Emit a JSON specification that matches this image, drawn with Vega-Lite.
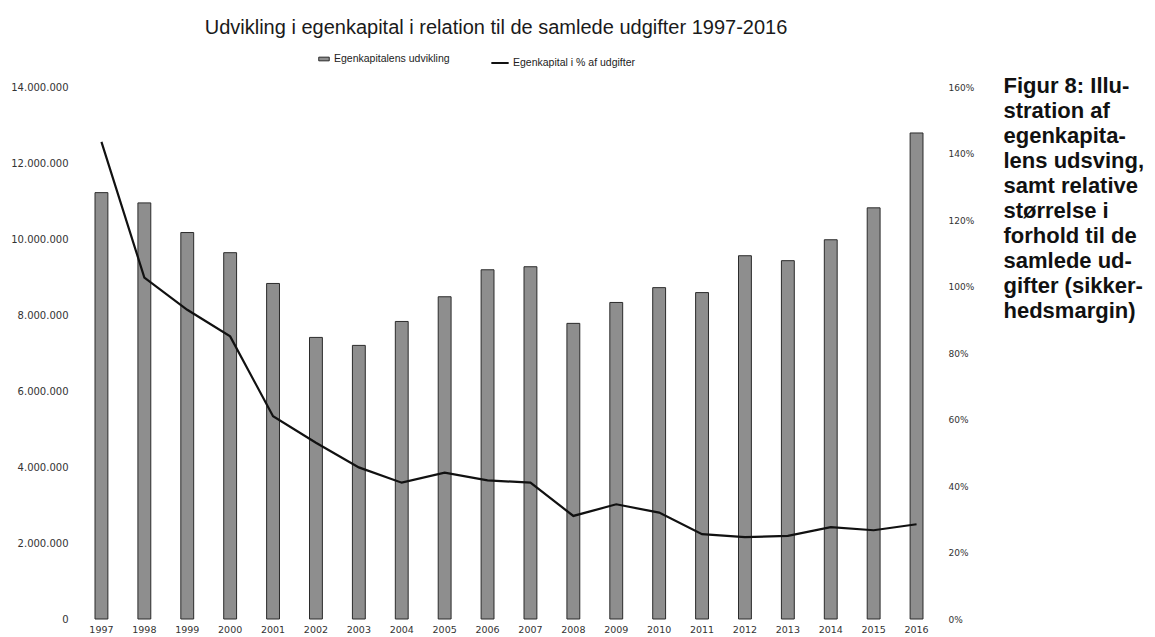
{
  "$schema": "https://vega.github.io/schema/vega-lite/v6.json",
  "width": 858,
  "height": 532,
  "autosize": {"type": "none"},
  "padding": {"left": 80, "top": 87, "right": 217, "bottom": 18},
  "background": "white",
  "title": {
    "text": "Udvikling i egenkapital  i relation til de samlede udgifter 1997-2016",
    "font": "Liberation Sans",
    "fontSize": 20,
    "fontWeight": "normal",
    "color": "#1a1a1a",
    "anchor": "middle",
    "dx": -13,
    "offset": 15
  },
  "data": {
    "values": [
      {"year": "1997", "egenkapital": 11220000, "pct": 1.435},
      {"year": "1998", "egenkapital": 10950000, "pct": 1.027},
      {"year": "1999", "egenkapital": 10170000, "pct": 0.93},
      {"year": "2000", "egenkapital": 9640000, "pct": 0.85},
      {"year": "2001", "egenkapital": 8830000, "pct": 0.61},
      {"year": "2002", "egenkapital": 7410000, "pct": 0.53},
      {"year": "2003", "egenkapital": 7200000, "pct": 0.456},
      {"year": "2004", "egenkapital": 7830000, "pct": 0.41},
      {"year": "2005", "egenkapital": 8480000, "pct": 0.44},
      {"year": "2006", "egenkapital": 9190000, "pct": 0.417},
      {"year": "2007", "egenkapital": 9270000, "pct": 0.41},
      {"year": "2008", "egenkapital": 7780000, "pct": 0.31},
      {"year": "2009", "egenkapital": 8330000, "pct": 0.345},
      {"year": "2010", "egenkapital": 8720000, "pct": 0.32},
      {"year": "2011", "egenkapital": 8590000, "pct": 0.255},
      {"year": "2012", "egenkapital": 9560000, "pct": 0.246},
      {"year": "2013", "egenkapital": 9430000, "pct": 0.25},
      {"year": "2014", "egenkapital": 9980000, "pct": 0.276},
      {"year": "2015", "egenkapital": 10820000, "pct": 0.267},
      {"year": "2016", "egenkapital": 12790000, "pct": 0.285}
    ]
  },
  "encoding": {
    "x": {
      "field": "year",
      "type": "ordinal",
      "scale": {"paddingInner": 0.7, "paddingOuter": 0.35},
      "axis": {
        "title": null,
        "labelAngle": 0,
        "labelPadding": 5,
        "labelFont": "DejaVu Sans",
        "labelFontSize": 9.5,
        "labelColor": "#333333",
        "domain": false,
        "ticks": false
      }
    }
  },
  "layer": [
    {
      "mark": {"type": "bar", "stroke": "#2b2b2b", "strokeWidth": 1},
      "encoding": {
        "y": {
          "field": "egenkapital",
          "type": "quantitative",
          "scale": {"domain": [0, 14000000], "nice": false},
          "axis": {
            "title": null,
            "orient": "left",
            "values": [0, 2000000, 4000000, 6000000, 8000000, 10000000, 12000000, 14000000],
            "format": ",d",
            "labelPadding": 12,
            "labelFont": "DejaVu Sans",
            "labelFontSize": 10,
            "labelColor": "#333333",
            "domain": false,
            "ticks": false,
            "grid": false
          }
        },
        "fill": {
          "datum": "Egenkapitalens udvikling",
          "scale": {"range": ["#8e8e8e"]},
          "legend": {
            "title": null,
            "orient": "none",
            "legendX": 238,
            "legendY": -34,
            "padding": 0,
            "symbolType": "M-1,-0.35H1V0.35H-1Z",
            "symbolSize": 110,
            "symbolStrokeColor": "#2b2b2b",
            "symbolStrokeWidth": 1,
            "labelFont": "Liberation Sans",
            "labelFontSize": 10.5,
            "labelColor": "#222222",
            "labelOffset": 4
          }
        }
      }
    },
    {
      "mark": {"type": "line", "strokeWidth": 2.2},
      "encoding": {
        "y": {
          "field": "pct",
          "type": "quantitative",
          "scale": {"domain": [0, 1.6], "nice": false},
          "axis": {
            "orient": "right",
            "values": [0, 0.2, 0.4, 0.6, 0.8, 1.0, 1.2, 1.4, 1.6],
            "format": ".0%",
            "labelPadding": 10,
            "labelFont": "DejaVu Sans",
            "labelFontSize": 9,
            "labelColor": "#333333",
            "domain": false,
            "ticks": false,
            "grid": false,
            "title": ["Figur 8: Illu-", "stration af", "egenkapita-", "lens udsving,", "samt relative", "størrelse i", "forhold til de", "samlede ud-", "gifter (sikker-", "hedsmargin)"],
            "titleAngle": 0,
            "titleAlign": "left",
            "titleBaseline": "alphabetic",
            "titleX": 65,
            "titleY": 5,
            "titleFont": "Liberation Sans",
            "titleFontSize": 22,
            "titleFontWeight": "bold",
            "titleColor": "#111111",
            "titleLineHeight": 25
          }
        },
        "stroke": {
          "datum": "Egenkapital i % af udgifter",
          "scale": {"range": ["#111111"]},
          "legend": {
            "title": null,
            "orient": "none",
            "legendX": 410,
            "legendY": -34,
            "padding": 0,
            "symbolType": "stroke",
            "symbolSize": 300,
            "symbolStrokeWidth": 2,
            "labelFont": "Liberation Sans",
            "labelFontSize": 10.5,
            "labelColor": "#222222",
            "labelOffset": 3
          }
        }
      }
    }
  ],
  "resolve": {"scale": {"y": "independent"}},
  "config": {
    "view": {"stroke": null},
    "locale": {
      "number": {"decimal": ",", "thousands": ".", "grouping": [3], "currency": ["", " kr."]}
    }
  }
}
